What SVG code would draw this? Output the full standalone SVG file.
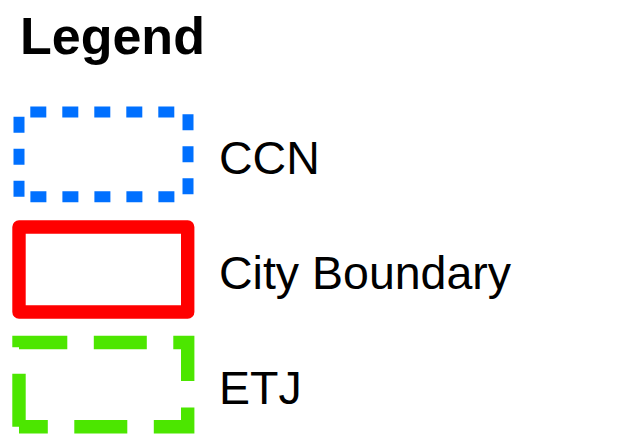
<svg xmlns="http://www.w3.org/2000/svg" width="621" height="438" viewBox="0 0 621 438">
  <style>
    .title { font-family: "Liberation Sans", Arial, sans-serif; font-weight: bold; font-size: 52px; fill: #000; }
    .label { font-family: "Liberation Sans", Arial, sans-serif; font-size: 46.5px; fill: #000; }
    .swatch { fill: none; stroke-linecap: butt; }
    .ccn { stroke: #0070ff; stroke-width: 11; stroke-dasharray: 16 16; stroke-linejoin: miter; }
    .city { stroke: #ff0000; stroke-width: 13.4; stroke-linejoin: round; }
    .etj { stroke: #4ce600; stroke-width: 13.4; stroke-dasharray: 53 26.5; stroke-linejoin: miter; }
  </style>
  <rect width="621" height="438" fill="#ffffff"/>

  <g id="legend-title">
    <text class="title" x="20" y="54">Legend</text>
  </g>

  <g id="item-ccn">
    <!-- open path from the lower-left corner, running up and clockwise -->
    <path class="swatch ccn" d="M19,196.7 V112 H188 V196.7 H19"/>
    <text class="label" x="219" y="174">CCN</text>
  </g>

  <g id="item-city-boundary">
    <rect class="swatch city" x="19" y="227" width="168.7" height="85"/>
    <text class="label" x="219" y="289">City Boundary</text>
  </g>

  <g id="item-etj">
    <path class="swatch etj" d="M19,426.7 V342.5 H187.7 V426.7 H19"/>
    <text class="label" x="219" y="404">ETJ</text>
  </g>
</svg>
